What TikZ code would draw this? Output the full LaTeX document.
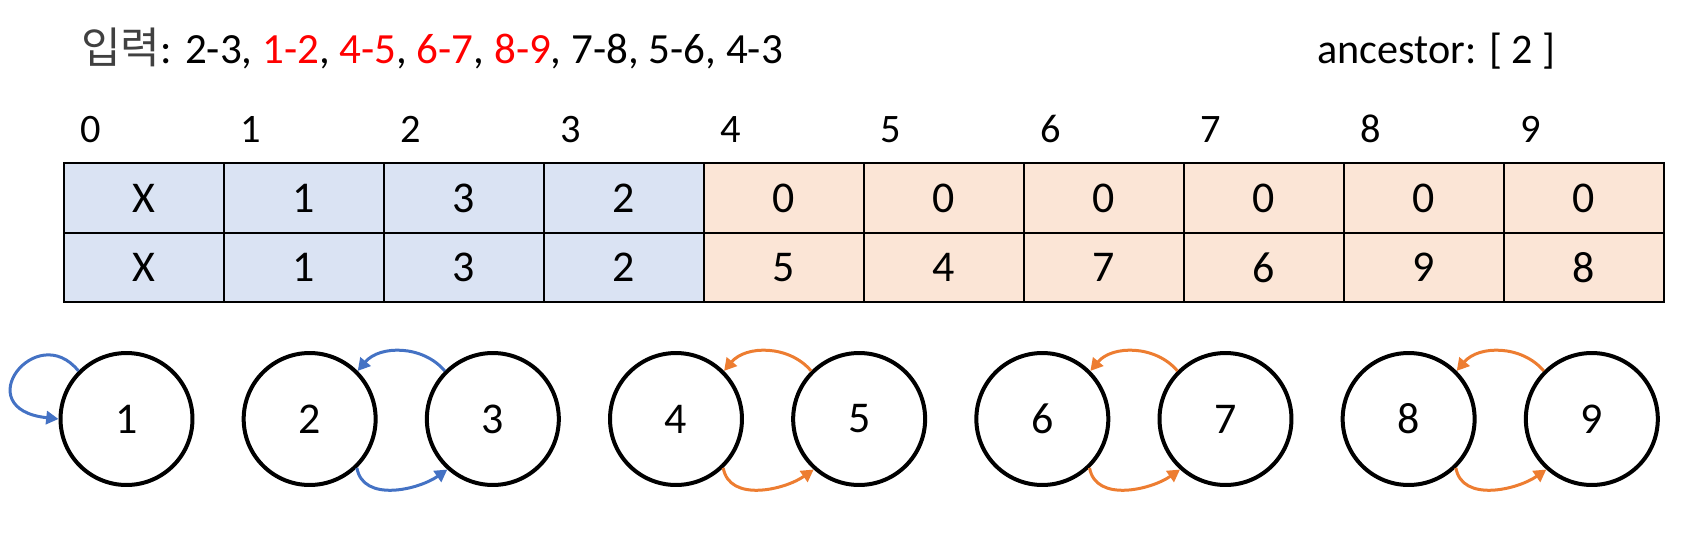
\documentclass[tikz,border=0pt]{standalone}
\usepackage{fontspec}
\setmainfont{Carlito}
\newfontfamily\krfont{Noto Sans CJK KR}
\usetikzlibrary{arrows.meta}
\definecolor{setblue}{HTML}{DAE3F3}
\definecolor{setorange}{HTML}{FBE5D6}
\definecolor{arcblue}{HTML}{4472C4}
\definecolor{arcorange}{HTML}{ED7D31}
\definecolor{krgray}{HTML}{404040}

\begin{document}
\begin{tikzpicture}[x=0.02cm, y=0.02cm, node distance={3.664cm},
  every node/.style={font=\fontsize{25}{30}\selectfont},
  main/.style = {draw, circle, line width=0.08cm, minimum size=2.64cm, inner sep=0pt},
  cell/.style = {draw, line width=0.04cm, minimum width=3.2cm, minimum height=1.4cm, inner sep=0pt},
  idx/.style = {anchor=base west, inner sep=0pt, font=\fontsize{23}{27}\selectfont},
  link/.style = {line width=0.06cm, -{Triangle[length=7pt, width=7.5pt]}}]
  \useasboundingbox (0,0) rectangle (1686,-534);
  \node[anchor=base west, inner sep=0pt, font=\fontsize{24.5}{29}\selectfont] (input) at (81,-63) {{\krfont\color{krgray}입력}: 2-3, \textcolor{red}{1-2}, \textcolor{red}{4-5}, \textcolor{red}{6-7}, \textcolor{red}{8-9}, 7-8, 5-6, 4-3};
  \node[anchor=base west, inner sep=0pt, font=\fontsize{24}{29}\selectfont] (ancestor) at (1317,-63) {ancestor: [ 2 ]};
  % parent table
  \foreach \i/\p/\q in {0/X/X, 1/1/1, 2/3/3, 3/2/2} {
    \node[cell, fill=setblue] (top\i) at (144+160*\i,-198) {\p};
    \node[cell, fill=setblue] (bot\i) at (144+160*\i,-267.5) {\q};
    \node[idx] (idx\i) at (80+160*\i,-142) {\i};
  }
  \foreach \i/\p/\q in {4/0/5, 5/0/4, 6/0/7, 7/0/6, 8/0/9, 9/0/8} {
    \node[cell, fill=setorange] (top\i) at (144+160*\i,-198) {\p};
    \node[cell, fill=setorange] (bot\i) at (144+160*\i,-267.5) {\q};
    \node[idx] (idx\i) at (80+160*\i,-142) {\i};
  }
  % sets
  \node[main] (1) at (126.5,-419) {1};
  \node[main] (2) [right of = 1] {2};
  \node[main] (3) [right of = 2] {3};
  \node[main] (4) [right of = 3] {4};
  \node[main] (5) [right of = 4] {5};
  \node[main] (6) [right of = 5] {6};
  \node[main] (7) [right of = 6] {7};
  \node[main] (8) [right of = 7] {8};
  \node[main] (9) [right of = 8] {9};
  \draw[link, arcblue] (1.135) .. controls +(-42,52) and +(-92,10) .. (1.180);
  \path[link, arcblue] (3.135) edge[out=130, in=50] (2.45);
  \path[link, arcblue] (2.-46) edge[out=-80, in=-145] (3.-132);
  \path[link, arcorange] (5.135) edge[out=130, in=50] (4.45);
  \path[link, arcorange] (4.-46) edge[out=-80, in=-145] (5.-132);
  \path[link, arcorange] (7.135) edge[out=130, in=50] (6.45);
  \path[link, arcorange] (6.-46) edge[out=-80, in=-145] (7.-132);
  \path[link, arcorange] (9.135) edge[out=130, in=50] (8.45);
  \path[link, arcorange] (8.-46) edge[out=-80, in=-145] (9.-132);
\end{tikzpicture}
\end{document}
